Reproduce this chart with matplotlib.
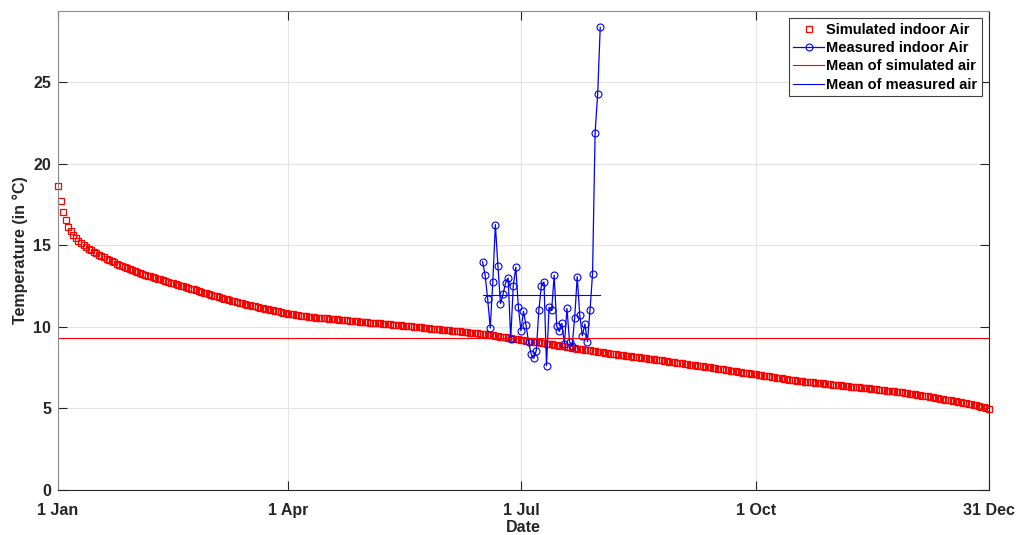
import numpy as np
import pandas as pd
import matplotlib
matplotlib.use("Agg")
import matplotlib.pyplot as plt

# simulated indoor air, one value per day (1 Jan .. 31 Dec)
sim_temp = [
    18.61, 17.71, 17.02, 16.53, 16.13, 15.85, 15.61, 15.42, 15.26, 15.12, 15.00,
    14.89, 14.79, 14.69, 14.60, 14.51, 14.42, 14.34, 14.26, 14.18, 14.10,
    14.02, 13.95, 13.87, 13.80, 13.73, 13.67, 13.60, 13.54, 13.47, 13.41,
    13.35, 13.29, 13.24, 13.18, 13.14, 13.10, 13.05, 13.00, 12.95, 12.90,
    12.85, 12.81, 12.76, 12.71, 12.66, 12.62, 12.57, 12.52, 12.48, 12.43,
    12.38, 12.33, 12.29, 12.24, 12.19, 12.15, 12.10, 12.05, 12.01, 11.96,
    11.91, 11.87, 11.82, 11.78, 11.73, 11.69, 11.65, 11.61, 11.56, 11.52,
    11.48, 11.44, 11.40, 11.36, 11.32, 11.28, 11.25, 11.21, 11.17, 11.14,
    11.10, 11.07, 11.03, 11.00, 10.97, 10.94, 10.90, 10.87, 10.84, 10.81,
    10.78, 10.76, 10.73, 10.70, 10.68, 10.66, 10.64, 10.62, 10.60, 10.59,
    10.57, 10.55, 10.54, 10.52, 10.51, 10.49, 10.48, 10.46, 10.45, 10.43,
    10.42, 10.40, 10.39, 10.37, 10.36, 10.35, 10.33, 10.32, 10.30, 10.29,
    10.28, 10.26, 10.25, 10.23, 10.22, 10.21, 10.19, 10.18, 10.16, 10.15,
    10.13, 10.12, 10.10, 10.09, 10.07, 10.05, 10.04, 10.02, 10.01, 9.99,
    9.97, 9.96, 9.94, 9.93, 9.91, 9.89, 9.88, 9.86, 9.85, 9.83,
    9.81, 9.80, 9.78, 9.77, 9.75, 9.73, 9.72, 9.70, 9.69, 9.67,
    9.65, 9.63, 9.62, 9.60, 9.58, 9.56, 9.54, 9.52, 9.49, 9.47,
    9.44, 9.42, 9.40, 9.37, 9.35, 9.32, 9.30, 9.28, 9.25, 9.23,
    9.20, 9.18, 9.16, 9.13, 9.11, 9.08, 9.06, 9.04, 9.01, 8.99,
    8.96, 8.94, 8.92, 8.89, 8.87, 8.84, 8.82, 8.80, 8.77, 8.75,
    8.72, 8.70, 8.67, 8.65, 8.62, 8.60, 8.57, 8.55, 8.52, 8.50,
    8.47, 8.45, 8.43, 8.41, 8.39, 8.36, 8.34, 8.32, 8.30, 8.28,
    8.26, 8.24, 8.22, 8.20, 8.17, 8.15, 8.13, 8.11, 8.09, 8.07,
    8.05, 8.02, 8.00, 7.98, 7.96, 7.94, 7.92, 7.89, 7.87, 7.85,
    7.83, 7.80, 7.78, 7.76, 7.74, 7.71, 7.69, 7.67, 7.65, 7.62,
    7.60, 7.58, 7.55, 7.53, 7.51, 7.48, 7.46, 7.44, 7.41, 7.39,
    7.37, 7.34, 7.32, 7.30, 7.27, 7.25, 7.23, 7.20, 7.18, 7.16,
    7.13, 7.11, 7.08, 7.06, 7.04, 7.01, 6.99, 6.96, 6.94, 6.92,
    6.89, 6.87, 6.84, 6.82, 6.80, 6.77, 6.75, 6.72, 6.70, 6.68,
    6.66, 6.64, 6.63, 6.61, 6.59, 6.58, 6.56, 6.54, 6.53, 6.51,
    6.49, 6.48, 6.46, 6.44, 6.43, 6.41, 6.39, 6.37, 6.36, 6.34,
    6.32, 6.31, 6.29, 6.27, 6.25, 6.24, 6.22, 6.20, 6.19, 6.17,
    6.15, 6.13, 6.11, 6.09, 6.08, 6.06, 6.04, 6.02, 6.00, 5.98,
    5.96, 5.93, 5.91, 5.88, 5.86, 5.83, 5.81, 5.78, 5.76, 5.73,
    5.70, 5.68, 5.65, 5.62, 5.60, 5.57, 5.54, 5.51, 5.49, 5.46,
    5.43, 5.40, 5.37, 5.34, 5.31, 5.28, 5.24, 5.21, 5.18, 5.14,
    5.10, 5.06, 5.02, 4.98,
]
sim_start = "2021-01-01"

# measured indoor air, daily from 16 Jun to 1 Aug
meas_temp = [
    13.99, 13.16, 11.69, 9.93, 12.75, 16.26, 13.73, 11.42, 11.99, 12.70,
    12.99, 9.25, 12.50, 13.66, 11.19, 9.76, 10.95, 10.09, 9.05, 8.33,
    8.07, 8.54, 11.01, 12.52, 12.75, 7.62, 11.19, 11.01, 13.16, 10.03,
    9.72, 10.21, 8.96, 11.13, 9.09, 8.82, 10.52, 13.07, 10.72, 9.45,
    10.17, 9.09, 11.01, 13.24, 21.89, 24.25, 28.35,
]
meas_start = "2021-06-16"

tick_dates = ["2021-01-01", "2021-04-01", "2021-07-01", "2021-10-01", "2021-12-31"]
tick_labels = ["1 Jan", "1 Apr", "1 Jul", "1 Oct", "31 Dec"]
y_ticks = [0, 5, 10, 15, 20, 25]

sim_dates = pd.date_range(sim_start, periods=len(sim_temp), freq="D")
meas_dates = pd.date_range(meas_start, periods=len(meas_temp), freq="D")
sim_mean = np.mean(sim_temp)
meas_mean = np.mean(meas_temp)

plt.rcParams["font.family"] = ["Liberation Sans", "DejaVu Sans"]
plt.rcParams["font.weight"] = "bold"

fig = plt.figure(figsize=(10.16, 5.35), dpi=100)
ax = fig.add_axes([0.0571, 0.0841, 0.9163, 0.8953])

ax.plot(sim_dates, sim_temp, "s", color="red", mfc="none", ms=4.3, mew=0.9,
        clip_on=False, label="Simulated indoor Air")
ax.plot(meas_dates, meas_temp, "-o", color="blue", mfc="none", ms=5, mew=0.8,
        lw=0.9, label="Measured indoor Air")
ax.plot([sim_dates[0], sim_dates[-1]], [sim_mean, sim_mean], color="red", lw=0.8,
        label="Mean of simulated air")
ax.plot([meas_dates[0], meas_dates[-1]], [meas_mean, meas_mean], color="blue", lw=0.8,
        label="Mean of measured air")

ax.set_xlim(sim_dates[0], sim_dates[-1])
ax.set_ylim(0, max(meas_temp) + 1)
ax.set_xticks(pd.to_datetime(tick_dates))
ax.set_xticklabels(tick_labels)
ax.set_yticks(y_ticks)

for lab in ax.get_xticklabels() + ax.get_yticklabels():
    lab.set_fontsize(11.5)
    lab.set_fontweight("bold")
    lab.set_color("#262626")

ax.tick_params(direction="in", length=6.5, width=0.8, top=True, right=True,
               colors="#262626", pad=5)
ax.tick_params(axis="x", pad=9)
ax.grid(True, color="#e3e3e3", lw=0.8)
ax.set_axisbelow(True)
for side in ["left", "top"]:
    ax.spines[side].set_color("#8c8c8c")
for side in ["bottom", "right"]:
    ax.spines[side].set_color("#262626")
for s in ax.spines.values():
    s.set_linewidth(0.8)

ax.set_xlabel("Date", fontsize=11.5, fontweight="bold", color="#262626", labelpad=2)
ax.set_ylabel("Temperature (in \u00b0C)", fontsize=11.5, fontweight="bold",
              color="#262626", labelpad=4)

leg = ax.legend(loc="upper right", fontsize=10.5, frameon=True, fancybox=False,
                edgecolor="#404040", handlelength=2.1, handletextpad=0.15,
                borderpad=0.3, labelspacing=0.3, borderaxespad=0.5,
                framealpha=1)
leg.get_frame().set_linewidth(0.8)

fig.savefig("out.png", dpi=100)
